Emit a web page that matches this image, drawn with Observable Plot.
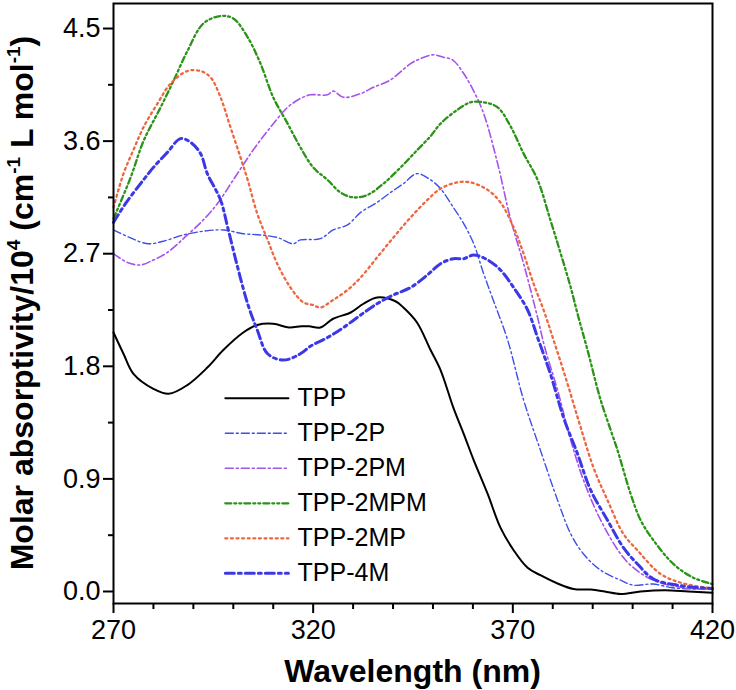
<!DOCTYPE html>
<html><head><meta charset="utf-8">
<script src="https://cdn.jsdelivr.net/npm/d3@7"></script>
<script src="https://cdn.jsdelivr.net/npm/@observablehq/plot@0.6"></script>
<style>body{margin:0;background:#fff} #chart{width:736px;height:690px}</style>
</head><body><div id="chart"></div>
<script>
// Wavelength (nm), molar absorptivity (10^4 cm^-1 L mol^-1)
const tpp = [[270,2.07],[272.5,1.90],[275,1.74],[280,1.62],[283.8,1.58],[288.5,1.65],[293.5,1.79],[297.5,1.93],[302.5,2.07],[306,2.13],[310,2.14],[314,2.11],[317,2.12],[319,2.12],[321.8,2.11],[325,2.18],[329.4,2.23],[332.6,2.30],[336,2.35],[340.6,2.32],[342.6,2.27],[346,2.15],[349.4,1.93],[351.9,1.77],[355.1,1.47],[357.7,1.26],[360.2,1.05],[363.7,0.78],[366.9,0.51],[370.2,0.33],[373.7,0.19],[376.9,0.13],[381.2,0.064],[385.2,0.02],[389.5,0.015],[393,0.0],[397,-0.02],[402,0.0],[408,0.01],[414,0.0],[420,-0.01]];
const tpp2P = [[270,2.89],[274,2.83],[278.5,2.78],[282.5,2.80],[287.5,2.85],[292.5,2.88],[297.5,2.89],[302.5,2.86],[306.8,2.85],[311,2.83],[315,2.78],[316.8,2.81],[321.8,2.82],[325,2.89],[328.6,2.93],[331.9,3.03],[336,3.11],[339.4,3.19],[342.6,3.26],[346,3.34],[349.4,3.29],[351.9,3.22],[355.1,3.07],[357.7,2.94],[360.2,2.78],[362.7,2.54],[365.2,2.32],[368.7,2.01],[372.7,1.53],[376.9,1.13],[381.2,0.73],[384.5,0.46],[387.7,0.30],[392,0.17],[397,0.09],[400.2,0.05],[405,0.06],[410,0.03],[415,0.02],[420,0.02]];
const tpp2PM = [[270,2.70],[273.5,2.63],[276.8,2.61],[280,2.65],[283.5,2.71],[288.5,2.85],[292.5,2.97],[296,3.10],[300,3.29],[305,3.53],[309.3,3.71],[313.6,3.87],[316.8,3.94],[319.3,3.97],[323.6,3.97],[325,4.00],[327.6,3.95],[331.9,3.98],[335.1,4.03],[339.4,4.09],[344.4,4.22],[346.9,4.26],[350.1,4.29],[352.6,4.27],[354.9,4.25],[357.7,4.14],[360.2,4.00],[362.7,3.82],[366.2,3.42],[369.4,2.98],[372.7,2.62],[376.2,2.19],[378,1.95],[381.2,1.61],[384.5,1.21],[387.7,0.89],[392,0.57],[397,0.30],[400.2,0.19],[405.2,0.09],[412.7,0.03],[420,0.02]];
const tpp2MPM = [[270,2.98],[274.3,3.31],[277.5,3.60],[281.8,3.87],[285,4.08],[288.5,4.32],[292.5,4.54],[296.8,4.60],[300,4.58],[303.6,4.43],[306.8,4.22],[310,3.95],[313.6,3.74],[316.8,3.55],[320,3.39],[323.6,3.29],[326.8,3.19],[330.1,3.15],[333.6,3.17],[337.6,3.26],[341.9,3.39],[346.1,3.53],[349.4,3.64],[351.9,3.74],[356.1,3.85],[359.4,3.91],[362.7,3.91],[366.2,3.87],[369.4,3.72],[372.7,3.50],[376.2,3.29],[379.4,2.97],[382,2.70],[384.5,2.43],[386.2,2.22],[388.7,1.93],[392,1.53],[396.2,1.13],[399.5,0.78],[402,0.57],[405.2,0.41],[410.2,0.22],[415.2,0.11],[420,0.06]];
const tpp2MP = [[270,3.07],[272.5,3.34],[275,3.53],[277.5,3.71],[281,3.90],[284.3,4.06],[288.5,4.16],[291.8,4.16],[294.3,4.11],[296.8,3.95],[299.3,3.71],[301.8,3.47],[303.6,3.29],[306,3.02],[308.6,2.81],[311,2.62],[314.3,2.43],[317.6,2.31],[320,2.29],[321.8,2.27],[325,2.33],[328.6,2.41],[331.9,2.51],[336,2.67],[340.1,2.83],[344.4,2.99],[348.6,3.13],[351.9,3.22],[356.1,3.27],[359.4,3.27],[363.7,3.21],[366.9,3.11],[370.2,2.91],[372.7,2.70],[375.2,2.46],[377.7,2.25],[380.2,2.01],[383.7,1.66],[387,1.31],[390.2,0.99],[393.7,0.73],[397.7,0.46],[401.2,0.33],[407,0.14],[412.7,0.064],[420,0.024]];
const tpp4M = [[270,2.95],[273,3.10],[277.5,3.29],[280,3.39],[283.5,3.51],[286.8,3.62],[289.3,3.59],[291.8,3.50],[293.5,3.34],[296.8,3.13],[298.6,2.91],[301.1,2.59],[303.6,2.30],[306,2.09],[308.6,1.90],[312.6,1.85],[316.8,1.90],[319.3,1.96],[323.6,2.03],[327.6,2.11],[331.9,2.21],[336,2.30],[340.1,2.37],[344.4,2.43],[348.6,2.53],[351.9,2.62],[355.1,2.66],[357.7,2.66],[360.2,2.69],[363.7,2.65],[366.9,2.57],[370.2,2.43],[373.7,2.25],[376.2,2.03],[379.4,1.74],[382.7,1.39],[386.2,1.10],[389.5,0.81],[393.7,0.57],[397.7,0.35],[401.2,0.22],[405.2,0.10],[411.2,0.05],[420,0.024]];

const seriesNames = ["TPP","TPP-2P","TPP-2PM","TPP-2MPM","TPP-2MP","TPP-4M"];
const xMajorTicks = [270,320,370,420];
const xMinorTicks = [280,290,300,310,330,340,350,360,380,390,400,410];
const yMajorTicks = [0,0.9,1.8,2.7,3.6,4.5];
const yMinorTicks = [0.45,1.35,2.25,3.15,4.05];

const seriesData = [tpp,tpp2P,tpp2PM,tpp2MPM,tpp2MP,tpp4M];
const styles = [
  {stroke:"#000000", strokeWidth:2},
  {stroke:"#3d4fe8", strokeWidth:1.4, strokeDasharray:"8,3,2,3"},
  {stroke:"#a451ee", strokeWidth:1.6, strokeDasharray:"8,3,2,3"},
  {stroke:"#2b9318", strokeWidth:2.3, strokeDasharray:"6,3,2,3,2,3"},
  {stroke:"#ee6640", strokeWidth:2.3, strokeDasharray:"2,3.6"},
  {stroke:"#3b38e6", strokeWidth:3, strokeDasharray:"9,4,3,4"}
];
// legend placement in data units
const legX0 = 298, legX1 = 313.8, legTextX = 316.1, legY0 = 1.545, legStep = 0.28;

const FONT = "'Liberation Sans', Arial, Helvetica, sans-serif";
const marks = [];
seriesData.forEach((d,i) => marks.push(Plot.line(d, {...styles[i], curve:"catmull-rom"})));
seriesNames.forEach((name,i) => {
  const y = legY0 - legStep*i;
  marks.push(Plot.line([[legX0,y],[legX1,y]], {...styles[i]}));
});
marks.push(Plot.text(seriesNames, {x:()=>legTextX, y:(d,i)=>legY0 - legStep*i, text:d=>d, textAnchor:"start", fontSize:25, fill:"#000"}));
marks.push(Plot.axisX(xMinorTicks, {tickSize:6, strokeWidth:2, tickFormat:()=>"", label:null}));
marks.push(Plot.axisX(xMajorTicks, {tickSize:10, strokeWidth:2, tickPadding:6, fontSize:27, tickFormat:d=>String(d), label:null}));
marks.push(Plot.axisY(yMinorTicks, {tickSize:5, strokeWidth:2, tickFormat:()=>"", label:null}));
marks.push(Plot.axisY(yMajorTicks, {tickSize:10, strokeWidth:2, tickPadding:3, fontSize:27, tickFormat:d=>d.toFixed(1), label:null}));
marks.push(Plot.frame({stroke:"#000", strokeWidth:2}));

const plot = Plot.plot({
  width:736, height:690,
  marginLeft:113, marginRight:24, marginTop:3, marginBottom:87,
  x:{domain:[270,420]},
  y:{domain:[-0.096,4.70]},
  style:{fontFamily:FONT, fontSize:"26px", background:"#fff", color:"#000"},
  marks
});
document.getElementById("chart").appendChild(plot);

const svg = d3.select(plot);
const yTitle = svg.append("text")
  .attr("transform","translate(33,303) rotate(-90)")
  .attr("text-anchor","middle").attr("font-weight","bold")
  .attr("font-size",32).attr("font-family",FONT).attr("fill","#000");
const parts = [["Molar absorptivity/10",false],["4",true],[" (cm",false],["-1",true],[" L mol",false],["-1",true],[")",false]];
let prevSup = false;
parts.forEach(([t,sup]) => {
  const ts = yTitle.append("tspan").text(t);
  if (sup) ts.attr("font-size",19).attr("dy",-13);
  else { ts.attr("font-size",32); if (prevSup) ts.attr("dy",13); }
  prevSup = sup;
});
svg.append("text")
  .attr("x",412.5).attr("y",682)
  .attr("text-anchor","middle").attr("font-weight","bold")
  .attr("font-size",32).attr("font-family",FONT).attr("fill","#000")
  .text("Wavelength (nm)");
</script>
</body></html>
